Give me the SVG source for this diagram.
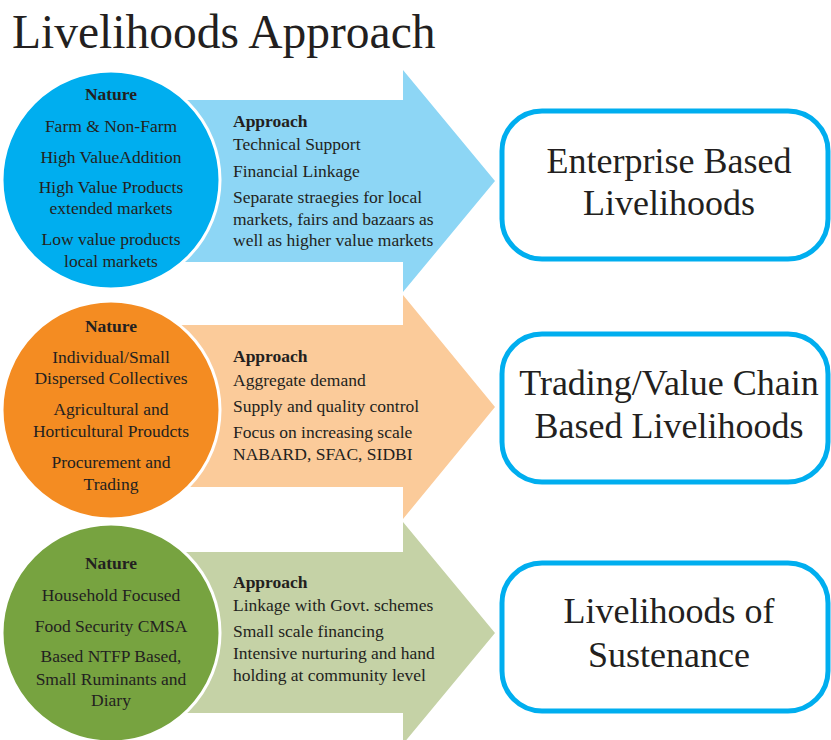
<svg xmlns="http://www.w3.org/2000/svg" width="831" height="740" viewBox="0 0 831 740">
<style>
.title{font-size:47.5px}
.c{font-size:17.5px;text-anchor:middle}
.a{font-size:17.5px}
.b{font-weight:bold}
.r{font-size:36px;text-anchor:middle}
.box{fill:#fff;stroke:#00aeef;stroke-width:5}
.circ{stroke:#fff;stroke-width:3}
</style>
<rect width="831" height="740" fill="#fff"/>
<g font-family="Liberation Serif, serif" fill="#231f20">
<text class="title" x="12" y="48">Livelihoods Approach</text>

<g id="connectors">
<g id="arrow1"><polygon points="150,100 403,100 403,70 495,181 403,292 403,262 150,262" fill="#8dd6f5"/>
<text class="a b" x="233" y="127">Approach</text>
<text class="a" x="233" y="150">Technical Support</text>
<text class="a" x="233" y="177">Financial Linkage</text>
<text class="a" x="233" y="203">Separate straegies for local</text>
<text class="a" x="233" y="225">markets, fairs and bazaars as</text>
<text class="a" x="233" y="246">well as higher value markets</text></g>
<g id="arrow2"><polygon points="150,325 403,325 403,295 495,407 403,519 403,487 150,487" fill="#fbcb9a"/>
<text class="a b" x="233" y="362">Approach</text>
<text class="a" x="233" y="386">Aggregate demand</text>
<text class="a" x="233" y="412">Supply and quality control</text>
<text class="a" x="233" y="438">Focus on increasing scale</text>
<text class="a" x="233" y="460">NABARD, SFAC, SIDBI</text></g>
<g id="arrow3"><polygon points="150,552 403,552 403,522 495,633 403,744 403,713 150,713" fill="#c5d2a6"/>
<text class="a b" x="233" y="588">Approach</text>
<text class="a" x="233" y="611">Linkage with Govt. schemes</text>
<text class="a" x="233" y="637">Small scale financing</text>
<text class="a" x="233" y="659">Intensive nurturing and hand</text>
<text class="a" x="233" y="681">holding at community level</text></g>
</g>

<g id="nature1"><circle class="circ" cx="111" cy="180" r="109" fill="#00aeef"/>
<text class="c b" x="111" y="100">Nature</text>
<text class="c" x="111" y="132">Farm &amp; Non-Farm</text>
<text class="c" x="111" y="163">High ValueAddition</text>
<text class="c" x="111" y="193">High Value Products</text>
<text class="c" x="111" y="214">extended markets</text>
<text class="c" x="111" y="245">Low value products</text>
<text class="c" x="111" y="267">local markets</text></g>

<g id="nature2"><circle class="circ" cx="111" cy="410" r="109" fill="#f48c22"/>
<text class="c b" x="111" y="332">Nature</text>
<text class="c" x="111" y="363">Individual/Small</text>
<text class="c" x="111" y="384">Dispersed Collectives</text>
<text class="c" x="111" y="415">Agricultural and</text>
<text class="c" x="111" y="437">Horticultural Proudcts</text>
<text class="c" x="111" y="468">Procurement and</text>
<text class="c" x="111" y="490">Trading</text></g>

<g id="nature3"><circle class="circ" cx="111" cy="633" r="109" fill="#77a340"/>
<text class="c b" x="111" y="569">Nature</text>
<text class="c" x="111" y="601">Household Focused</text>
<text class="c" x="111" y="632">Food Security CMSA</text>
<text class="c" x="111" y="662">Based NTFP Based,</text>
<text class="c" x="111" y="685">Small Ruminants and</text>
<text class="c" x="111" y="706">Diary</text></g>

<g id="outcome1"><rect class="box" x="502" y="111" width="326" height="148" rx="40"/>
<text class="r" x="669" y="173">Enterprise Based</text>
<text class="r" x="669" y="215">Livelihoods</text></g>

<g id="outcome2"><rect class="box" x="502" y="334" width="326" height="148" rx="40"/>
<text class="r" x="669" y="395">Trading/Value Chain</text>
<text class="r" x="669" y="438">Based Livelihoods</text></g>

<g id="outcome3"><rect class="box" x="502" y="563" width="326" height="148" rx="40"/>
<text class="r" x="669" y="623">Livelihoods of</text>
<text class="r" x="669" y="667">Sustenance</text></g>
</g>
</svg>
